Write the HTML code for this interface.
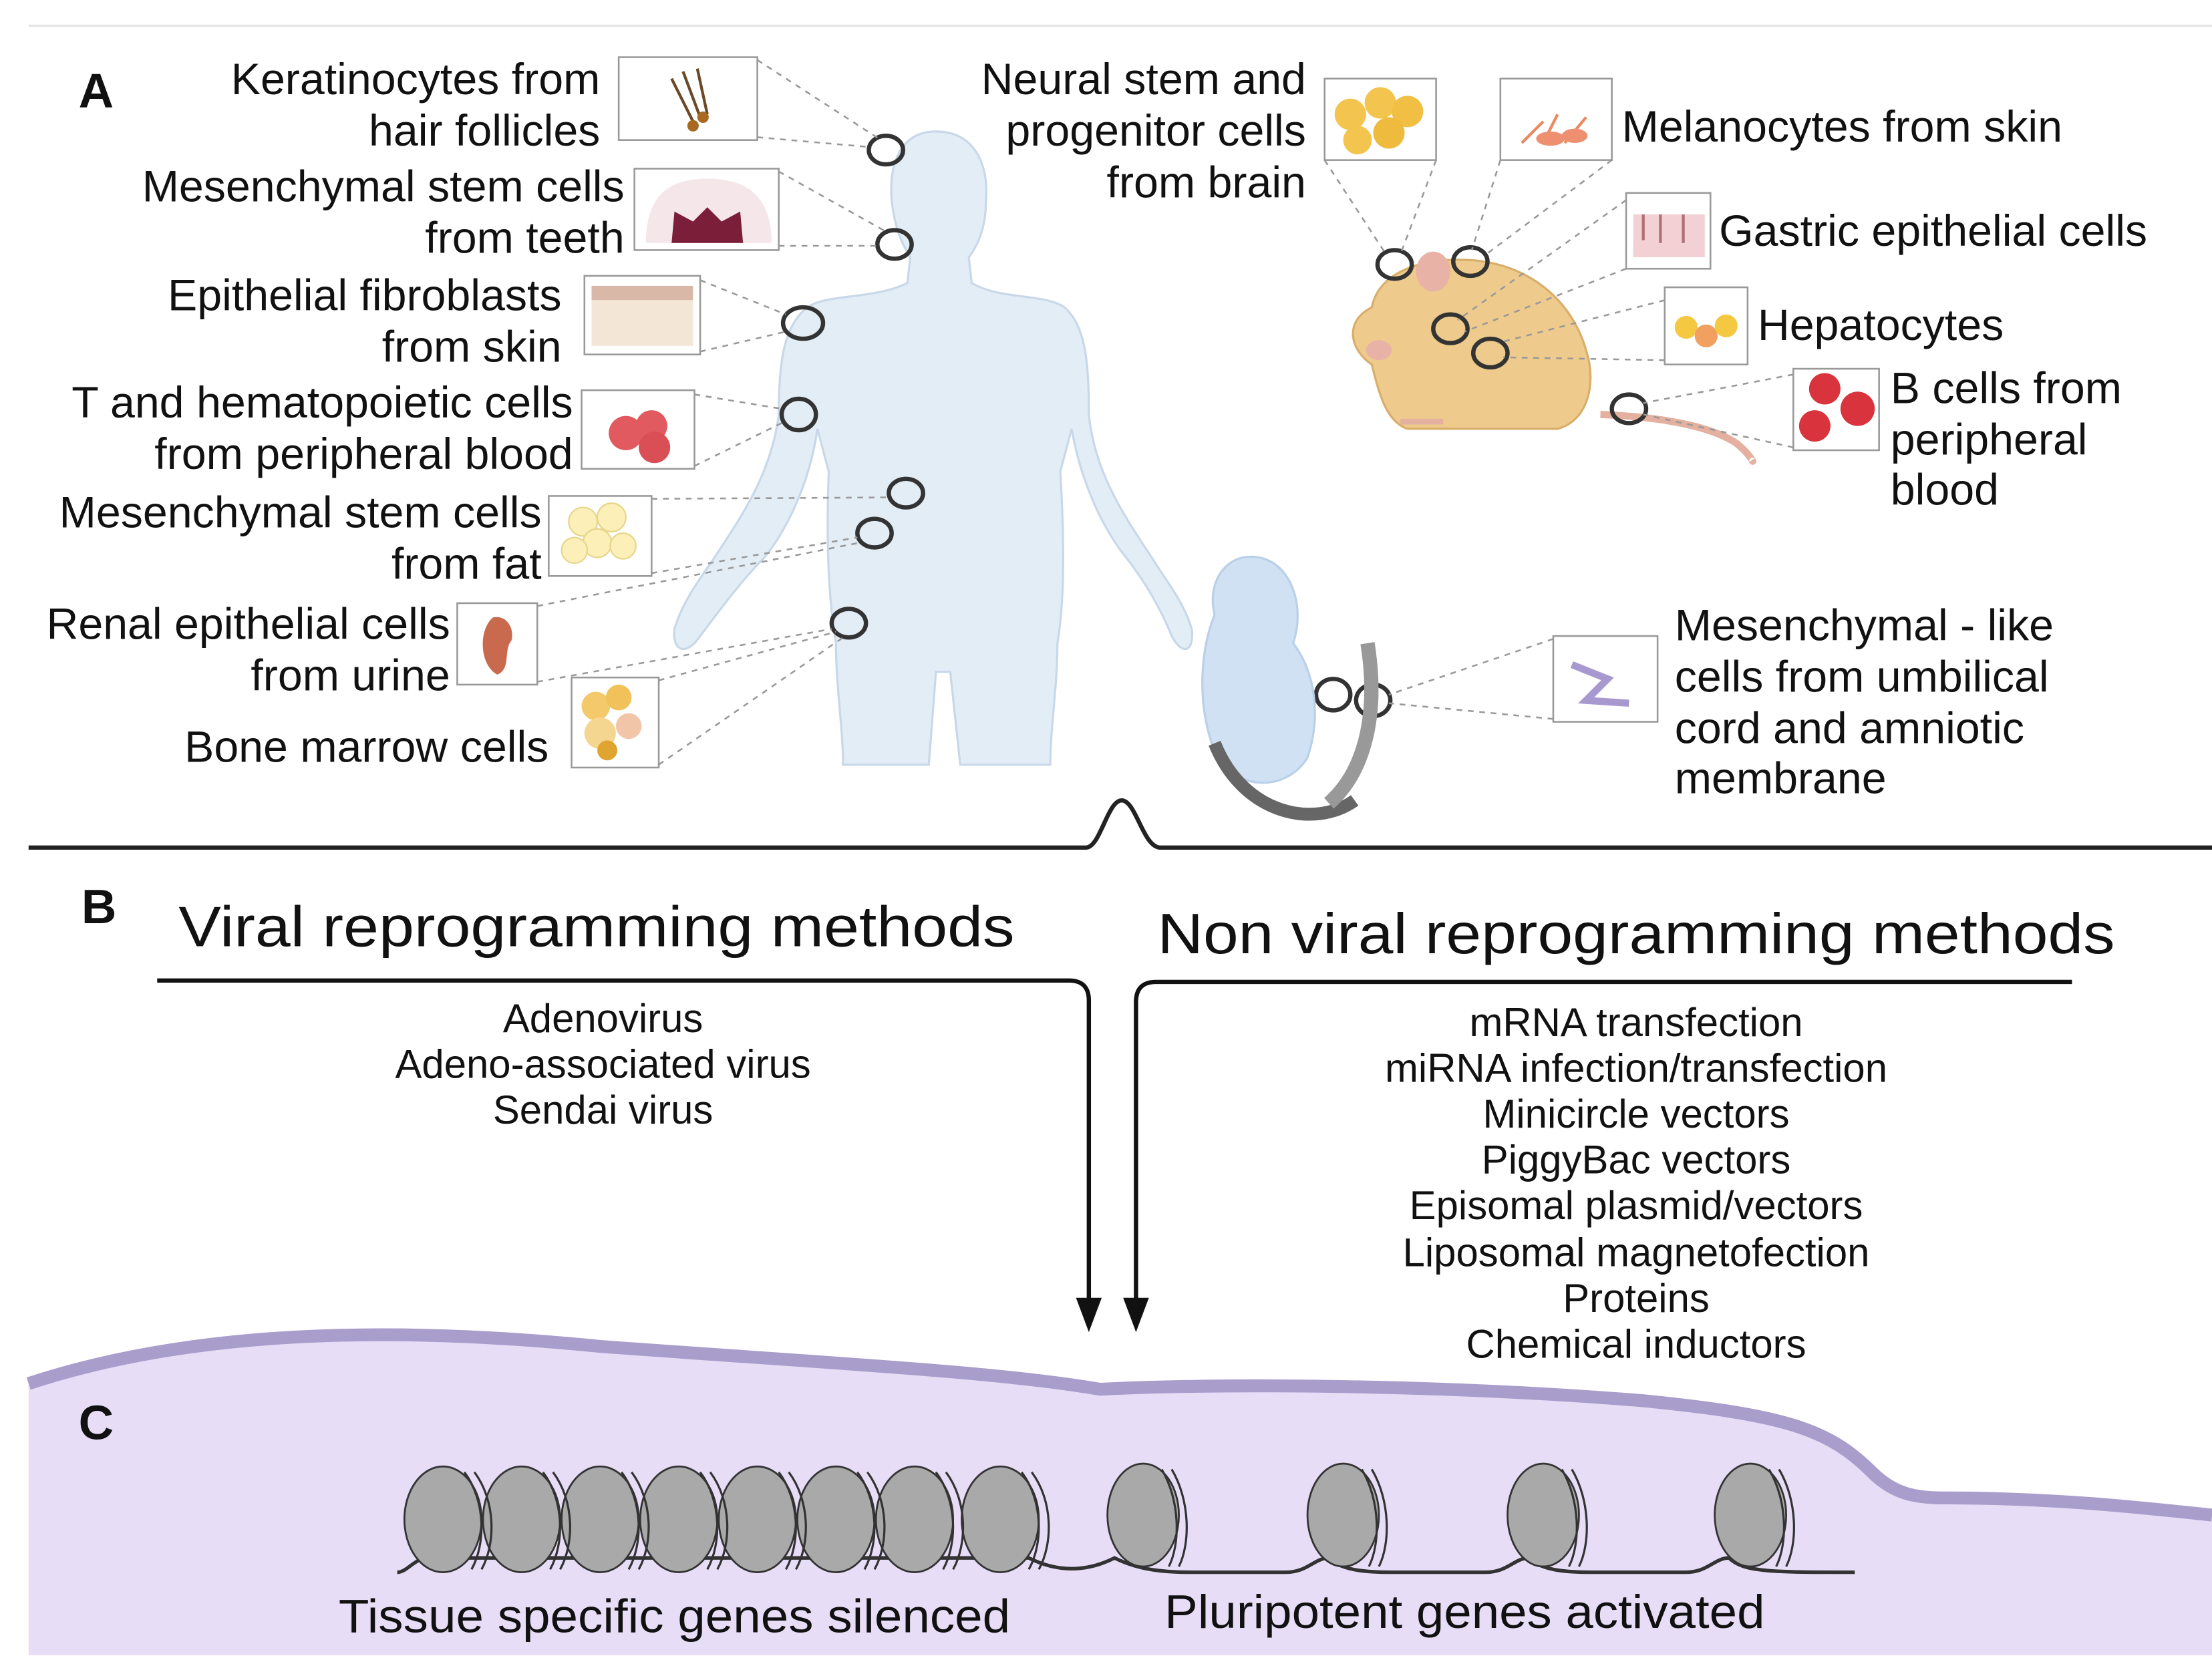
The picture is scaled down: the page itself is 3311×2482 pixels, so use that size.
<!DOCTYPE html>
<html><head><meta charset="utf-8"><style>
html,body{margin:0;padding:0;background:#fff;}
svg{display:block;}
text{font-family:"Liberation Sans",sans-serif;fill:#111;}
</style></head><body>
<svg width="3311" height="2482" viewBox="0 0 1548 1160" preserveAspectRatio="none" xmlns="http://www.w3.org/2000/svg">
<rect width="1548" height="1160" fill="#fff"/>
<line x1="20" y1="18" x2="1548" y2="18" stroke="#e4e4e4" stroke-width="1.5"/>

<text x="55" y="75" font-size="34" font-weight="bold">A</text>

<g fill="#e3edf6" stroke="#c8d8e8" stroke-width="1.5">
<path d="M655,92 C630,92 622,115 624,140 C626,160 632,172 637,180 L635,198 C610,210 580,205 565,215 C548,228 545,255 545,290 C540,330 520,360 500,390 C490,405 478,420 472,440 C470,455 480,460 490,445 C505,425 520,405 535,390 C555,365 568,330 572,300 L580,330 C578,380 580,420 585,450 C585,480 590,510 590,535 L650,535 L655,470 L665,470 L672,535 L735,535 C735,510 740,480 740,450 C745,420 745,380 742,330 L750,300 C755,330 768,365 788,390 C800,405 812,425 820,445 C828,460 836,455 834,440 C828,420 815,405 806,390 C786,360 766,330 762,290 C762,255 760,228 745,215 C730,205 700,210 680,198 L678,180 C684,172 690,160 690,140 C692,115 682,92 655,92 Z"/>
</g>

<g fill="none" stroke="#333" stroke-width="3">
<ellipse cx="620" cy="105" rx="12" ry="10"/>
<ellipse cx="626" cy="171" rx="12" ry="10"/>
<ellipse cx="562" cy="226" rx="14" ry="11"/>
<ellipse cx="559" cy="290" rx="12" ry="11"/>
<ellipse cx="634" cy="345" rx="12" ry="10"/>
<ellipse cx="612" cy="373" rx="12" ry="10"/>
<ellipse cx="594" cy="436" rx="12" ry="10"/>
</g>

<g stroke="#999" stroke-width="1.2" stroke-dasharray="4,4" fill="none">
<path d="M530,42 L615,97 M530,96 L610,103"/>
<path d="M545,120 L620,162 M545,172 L615,172"/>
<path d="M490,196 L550,220 M490,246 L550,232"/>
<path d="M486,276 L547,286 M486,326 L547,296"/>
<path d="M456,349 L622,348 M456,401 L600,376"/>
<path d="M376,424 L600,380 M376,477 L582,440"/>
<path d="M461,476 L585,442 M461,535 L590,446"/>
</g>

<g stroke="#999" stroke-width="1.2">
<rect x="433" y="40" width="97" height="58" fill="#fff"/>
<rect x="444" y="118" width="101" height="57" fill="#fff"/>
<rect x="409" y="193" width="81" height="55" fill="#fff"/>
<rect x="407" y="273" width="79" height="55" fill="#fff"/>
<rect x="384" y="347" width="72" height="56" fill="#fff"/>
<rect x="320" y="422" width="56" height="57" fill="#fff"/>
<rect x="400" y="474" width="61" height="63" fill="#fff"/>
</g>
<g>
<path d="M470,55 L485,85 M478,50 L490,82 M488,48 L495,80" stroke="#6b4a2a" stroke-width="2"/>
<circle cx="485" cy="88" r="4" fill="#a86a20"/><circle cx="492" cy="82" r="4" fill="#a86a20"/>
<path d="M452,170 C452,135 470,125 495,125 C520,125 540,135 540,170 Z" fill="#f5e6ea"/>
<path d="M470,170 L472,148 L485,155 L495,145 L505,155 L518,148 L520,170 Z" fill="#7a1e3a"/>
<rect x="414" y="200" width="71" height="10" fill="#d9b8a8"/><rect x="414" y="210" width="71" height="32" fill="#f3e6d6"/>
<circle cx="438" cy="303" r="12" fill="#e05a5f"/><circle cx="456" cy="298" r="11" fill="#e05a5f"/><circle cx="458" cy="313" r="11" fill="#d94f55"/>
<g fill="#fcefb8" stroke="#e6d58a"><circle cx="408" cy="365" r="10"/><circle cx="428" cy="362" r="10"/><circle cx="418" cy="380" r="10"/><circle cx="436" cy="382" r="9"/><circle cx="402" cy="385" r="9"/></g>
<path d="M345,432 C335,440 335,465 348,472 C358,468 352,455 358,448 C360,440 355,430 345,432Z" fill="#c96a4f"/>
<g><circle cx="417" cy="494" r="10" fill="#f3c96c"/><circle cx="433" cy="488" r="9" fill="#f1c15a"/><circle cx="420" cy="513" r="11" fill="#f5d690"/><circle cx="440" cy="508" r="9" fill="#f1c6a8"/><circle cx="425" cy="525" r="7" fill="#e0a530"/></g>
</g>

<g font-size="31" text-anchor="end">
<text x="420" y="66">Keratinocytes from</text>
<text x="420" y="102">hair follicles</text>
<text x="437" y="141">Mesenchymal stem cells</text>
<text x="437" y="177">from teeth</text>
<text x="393" y="217">Epithelial fibroblasts</text>
<text x="393" y="253">from skin</text>
<text x="401" y="292">T and hematopoietic cells</text>
<text x="401" y="328">from peripheral blood</text>
<text x="379" y="369">Mesenchymal stem cells</text>
<text x="379" y="405">from fat</text>
<text x="315" y="447">Renal epithelial cells</text>
<text x="315" y="483">from urine</text>
<text x="384" y="533">Bone marrow cells</text>
</g>

<g>
<path d="M1120,290 C1170,292 1200,300 1215,310 C1225,318 1228,325 1226,322" stroke="#e4b0a0" stroke-width="5" fill="none"/>
<path d="M960,215 C965,190 995,180 1030,182 C1070,185 1100,210 1110,245 C1118,270 1110,295 1090,300 L985,300 C970,295 965,275 960,255 C945,245 940,225 960,215Z" fill="#eecb8d" stroke="#d8ae6a" stroke-width="1.5"/>
<ellipse cx="1003" cy="190" rx="12" ry="14" fill="#e9b2a6"/>
<ellipse cx="965" cy="245" rx="9" ry="7" fill="#e9b2a6"/>
<path d="M980,295 L1010,295" stroke="#e4b0a0" stroke-width="4"/>
</g>
<g fill="none" stroke="#333" stroke-width="3">
<ellipse cx="976" cy="185" rx="12" ry="10"/>
<ellipse cx="1029" cy="183" rx="12" ry="10"/>
<ellipse cx="1015" cy="230" rx="12" ry="10"/>
<ellipse cx="1043" cy="247" rx="12" ry="10"/>
<ellipse cx="1140" cy="286" rx="12" ry="10"/>
<ellipse cx="933" cy="486" rx="12" ry="11"/>
<ellipse cx="961" cy="490" rx="12" ry="11"/>
</g>
<g stroke="#999" stroke-width="1.2" stroke-dasharray="4,4" fill="none">
<path d="M927,112 L970,178 M1005,112 L980,178"/>
<path d="M1050,112 L1030,175 M1128,112 L1040,178"/>
<path d="M1138,140 L1020,224 M1138,188 L1025,232"/>
<path d="M1165,210 L1048,240 M1165,252 L1052,250"/>
<path d="M1255,262 L1150,282 M1255,313 L1150,290"/>
<path d="M1087,447 L972,486 M1087,503 L972,492"/>
</g>
<g stroke="#999" stroke-width="1.2">
<rect x="927" y="55" width="78" height="57" fill="#fff"/>
<rect x="1050" y="55" width="78" height="57" fill="#fff"/>
<rect x="1138" y="135" width="59" height="53" fill="#fff"/>
<rect x="1165" y="201" width="58" height="54" fill="#fff"/>
<rect x="1255" y="258" width="60" height="57" fill="#fff"/>
<rect x="1087" y="445" width="73" height="60" fill="#fff"/>
</g>
<g>
<circle cx="945" cy="80" r="11" fill="#f3c54e"/><circle cx="966" cy="72" r="11" fill="#f3c54e"/><circle cx="985" cy="78" r="11" fill="#f1bf44"/><circle cx="950" cy="98" r="10" fill="#f3c54e"/><circle cx="972" cy="93" r="11" fill="#efbb3e"/>
<path d="M1065,100 L1080,85 M1080,100 L1090,80 M1095,100 L1110,82" stroke="#e98a60" stroke-width="2"/>
<ellipse cx="1085" cy="97" rx="10" ry="5" fill="#ee9070"/><ellipse cx="1102" cy="95" rx="9" ry="5" fill="#ee9070"/>
<rect x="1143" y="150" width="50" height="30" fill="#f2d0d3"/>
<path d="M1150,150 L1150,168 M1162,150 L1162,170 M1178,150 L1178,170" stroke="#b07078" stroke-width="2"/>
<circle cx="1180" cy="229" r="8" fill="#f5c842"/><circle cx="1194" cy="235" r="8" fill="#f2a060"/><circle cx="1208" cy="228" r="8" fill="#f5c842"/>
<circle cx="1277" cy="272" r="11" fill="#d9343e"/><circle cx="1300" cy="286" r="12" fill="#d9343e"/><circle cx="1270" cy="298" r="11" fill="#d9343e"/>
<path d="M1100,465 L1125,475 L1110,490 L1140,492" stroke="#a898d0" stroke-width="5" fill="none"/>
</g>
<g font-size="31">
<text x="914" y="66" text-anchor="end">Neural stem and</text>
<text x="914" y="102" text-anchor="end">progenitor cells</text>
<text x="914" y="138" text-anchor="end">from brain</text>
<text x="1135" y="99">Melanocytes from skin</text>
<text x="1203" y="172">Gastric epithelial cells</text>
<text x="1230" y="238">Hepatocytes</text>
<text x="1323" y="282">B cells from</text>
<text x="1323" y="318">peripheral</text>
<text x="1323" y="353">blood</text>
<text x="1172" y="448">Mesenchymal - like</text>
<text x="1172" y="484">cells from umbilical</text>
<text x="1172" y="520">cord and amniotic</text>
<text x="1172" y="555">membrane</text>
</g>

<path d="M870,390 C900,385 915,420 905,450 C920,470 925,500 915,530 C900,555 860,555 848,520 C838,490 840,455 850,430 C845,410 855,393 870,390Z" fill="#cfe1f3" stroke="#b9d0e8" stroke-width="1.5"/>
<path d="M850,520 C870,570 920,580 948,560" stroke="#666" stroke-width="9" fill="none"/>
<path d="M957,450 C965,500 955,540 930,562" stroke="#999" stroke-width="10" fill="none"/>

<path d="M20,593 L760,593 C770,593 775,560 785,560 C795,560 800,593 812,593 L1548,593" stroke="#222" stroke-width="3" fill="none"/>

<text x="57" y="646" font-size="34" font-weight="bold">B</text>
<text x="125" y="662" font-size="40" textLength="585" lengthAdjust="spacingAndGlyphs">Viral reprogramming methods</text>
<text x="810" y="667" font-size="40" textLength="670" lengthAdjust="spacingAndGlyphs">Non viral reprogramming methods</text>
<path d="M110,686 L748,686 Q762,686 762,700 L762,912" stroke="#111" stroke-width="3" fill="none"/>
<path d="M1450,687 L809,687 Q795,687 795,701 L795,912" stroke="#111" stroke-width="3" fill="none"/>
<path d="M753,908 L771,908 L762,932Z M786,908 L804,908 L795,932Z" fill="#111"/>
<g font-size="28" text-anchor="middle" fill="#222">
<text x="422" y="722">Adenovirus</text>
<text x="422" y="754">Adeno-associated virus</text>
<text x="422" y="786">Sendai virus</text>
<text x="1145" y="725">mRNA transfection</text>
<text x="1145" y="757">miRNA infection/transfection</text>
<text x="1145" y="789">Minicircle vectors</text>
<text x="1145" y="821">PiggyBac vectors</text>
<text x="1145" y="853">Episomal plasmid/vectors</text>
<text x="1145" y="886">Liposomal magnetofection</text>
<text x="1145" y="918">Proteins</text>
<text x="1145" y="950">Chemical inductors</text>
</g>

<path d="M20,968 C120,935 250,925 420,942 C600,955 700,960 770,972 C850,968 1000,968 1150,980 C1250,990 1280,1000 1310,1030 C1325,1045 1340,1048 1360,1048 C1440,1048 1500,1055 1548,1060 L1548,1158 L20,1158 Z" fill="#e8ddf7"/>
<path d="M20,968 C120,935 250,925 420,942 C600,955 700,960 770,972 C850,968 1000,968 1150,980 C1250,990 1280,1000 1310,1030 C1325,1045 1340,1048 1360,1048 C1440,1048 1500,1055 1548,1060" stroke="#a99dcc" stroke-width="9" fill="none"/>
<text x="55" y="1007" font-size="34" font-weight="bold">C</text>

<path d="M278,1100 C285,1100 290,1090 300,1090 L720,1090 C740,1100 760,1100 780,1090 C800,1100 820,1100 840,1100 L900,1100 C915,1100 920,1090 930,1090 C940,1100 960,1100 980,1100 L1040,1100 C1055,1100 1060,1090 1070,1090 C1080,1100 1100,1100 1120,1100 L1180,1100 C1195,1100 1200,1090 1210,1090 C1220,1100 1240,1100 1298,1100" stroke="#333" stroke-width="2.5" fill="none"/>
<g fill="#a9a9a9" stroke="#333" stroke-width="1.3">
<ellipse cx="310" cy="1063" rx="27" ry="37"/>
<ellipse cx="365" cy="1063" rx="27" ry="37"/>
<ellipse cx="420" cy="1063" rx="27" ry="37"/>
<ellipse cx="475" cy="1063" rx="27" ry="37"/>
<ellipse cx="530" cy="1063" rx="27" ry="37"/>
<ellipse cx="585" cy="1063" rx="27" ry="37"/>
<ellipse cx="640" cy="1063" rx="27" ry="37"/>
<ellipse cx="700" cy="1063" rx="27" ry="37"/>
<ellipse cx="800" cy="1060" rx="25" ry="36"/>
<ellipse cx="940" cy="1060" rx="25" ry="36"/>
<ellipse cx="1080" cy="1060" rx="25" ry="36"/>
<ellipse cx="1225" cy="1060" rx="25" ry="36"/>
</g>
<g fill="none" stroke="#333" stroke-width="1.5">
<path d="M325,1030 C340,1050 340,1080 330,1098 M332,1030 C347,1050 347,1080 337,1098"/>
<path d="M380,1030 C395,1050 395,1080 385,1098 M387,1030 C402,1050 402,1080 392,1098"/>
<path d="M435,1030 C450,1050 450,1080 440,1098 M442,1030 C457,1050 457,1080 447,1098"/>
<path d="M490,1030 C505,1050 505,1080 495,1098 M497,1030 C512,1050 512,1080 502,1098"/>
<path d="M545,1030 C560,1050 560,1080 550,1098 M552,1030 C567,1050 567,1080 557,1098"/>
<path d="M600,1030 C615,1050 615,1080 605,1098 M607,1030 C622,1050 622,1080 612,1098"/>
<path d="M655,1030 C670,1050 670,1080 660,1098 M662,1030 C677,1050 677,1080 667,1098"/>
<path d="M715,1030 C730,1050 730,1080 720,1098 M722,1030 C737,1050 737,1080 727,1098"/>
<path d="M813,1028 C826,1050 826,1080 818,1096 M820,1028 C833,1050 833,1080 825,1096"/>
<path d="M953,1028 C966,1050 966,1080 958,1096 M960,1028 C973,1050 973,1080 965,1096"/>
<path d="M1093,1028 C1106,1050 1106,1080 1098,1096 M1100,1028 C1113,1050 1113,1080 1105,1096"/>
<path d="M1238,1028 C1251,1050 1251,1080 1243,1096 M1245,1028 C1258,1050 1258,1080 1250,1096"/>
</g>
<text x="472" y="1142" font-size="33" text-anchor="middle" textLength="470" lengthAdjust="spacingAndGlyphs">Tissue specific genes silenced</text>
<text x="1025" y="1139" font-size="33" text-anchor="middle" textLength="420" lengthAdjust="spacingAndGlyphs">Pluripotent genes activated</text>
</svg>
</body></html>
